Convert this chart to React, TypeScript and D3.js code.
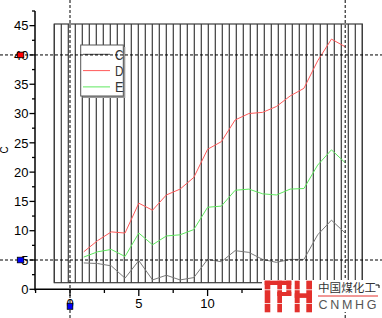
import React from "react";
import * as d3 from "d3";

const XS = [1, 2, 3, 4, 5, 6, 7, 8, 9, 10, 11, 12, 13, 14, 15, 16, 17, 18, 19, 20];
const SERIES_C = [4.5, 4.4, 4.0, 1.9, 4.9, 1.6, 2.4, 1.6, 2.0, 5.1, 4.7, 6.6, 6.3, 5.1, 4.6, 5.1, 5.1, 9.3, 11.8, 9.6];
const SERIES_D = [6.4, 8.3, 9.8, 9.6, 14.7, 13.5, 16.1, 17.1, 19.1, 23.9, 25.2, 28.9, 30.0, 30.2, 31.2, 33.0, 34.3, 39.0, 42.7, 41.4];
const SERIES_E = [5.5, 6.4, 6.8, 5.6, 9.6, 7.6, 9.1, 9.3, 10.2, 14.0, 14.2, 16.9, 17.1, 16.3, 16.1, 17.1, 17.2, 21.2, 23.8, 21.6];
const LEGEND = ["C", "D", "E"];
const Y_MAJOR = [0, 5, 10, 15, 20, 25, 30, 35, 40, 45];
const Y_MINOR = [2.5, 7.5, 12.5, 17.5, 22.5, 27.5, 32.5, 37.5, 42.5, 47.5];
const X_MAJOR = [0, 5, 10, 15, 20];
const X_LABELS = [0, 5, 10];
const X_MINOR = [-2.5, 2.5, 7.5, 12.5, 17.5];
const CURSOR_X = [0, 20];
const CURSOR_Y = [40, 5];

const W = 382;
const H = 318;

export default function App() {
  const x = d3.scaleLinear().domain([-2.5, 22.5]).range([35.6, 379.6]);
  const y = d3.scaleLinear().domain([0, 47.5]).range([289.3, 11]);
  const font = "'Liberation Sans', Arial, sans-serif";

  const lineGen = (vals: number[]) =>
    d3
      .line<number>()
      .x((_, i) => x(XS[i]))
      .y((v) => y(v))(vals) || "";

  const colors = ["#7a7a7a", "#ff5a5a", "#5ee85e"];
  const seriesData = [SERIES_C, SERIES_D, SERIES_E];

  // hatched rectangle
  const hx0 = 54.3, hx1 = 362.3, hy0 = 24, hy1 = 282.7;
  const nLines = 44;
  const hatch = d3.range(nLines + 1).map((i) => hx0 + ((hx1 - hx0) * i) / nLines);

  const red = "#e3302c";

  return (
    <svg width={W} height={H} style={{ position: "absolute", left: 0, top: 0, background: "#fff" }}>
      <rect x={0} y={0} width={W} height={H} fill="#fff" />
      <rect x={hx0} y={hy0} width={hx1 - hx0} height={hy1 - hy0} fill="none" stroke="#3c3c3c" strokeWidth={1.2} />
      {hatch.map((hx, i) => (
        <line key={i} x1={hx} x2={hx} y1={hy0} y2={hy1} stroke="#3c3c3c" strokeWidth={1.2} />
      ))}

      {seriesData.map((s, i) => (
        <path key={i} d={lineGen(s)} fill="none" stroke={colors[i]} strokeWidth={1} />
      ))}

      {/* legend */}
      <rect x={82.7} y={47} width={42.6} height={51} fill="#9a9a9a" />
      <rect x={80.7} y={45} width={42.6} height={51} fill="#fff" stroke="#555" strokeWidth={1} />
      {LEGEND.map((l, i) => {
        const ly = 54.3 + i * 16.3;
        return (
          <g key={l}>
            <line x1={83} x2={110} y1={ly} y2={ly} stroke={i === 0 ? "#444" : colors[i]} strokeWidth={1} />
            <text
              x={115}
              y={ly}
              dy="0.36em"
              fontFamily={font}
              fontSize={15}
              fill="#333"
              textLength={8.5}
              lengthAdjust="spacingAndGlyphs"
            >
              {l}
            </text>
          </g>
        );
      })}

      {/* axes */}
      <line x1={35} x2={35} y1={y(47.5)} y2={290.5} stroke="#000" strokeWidth={1.5} />
      <line x1={35} x2={x(22.5)} y1={289.3} y2={289.3} stroke="#000" strokeWidth={1.5} />
      {Y_MAJOR.map((v) => (
        <g key={"ym" + v}>
          <line x1={29.5} x2={35} y1={y(v)} y2={y(v)} stroke="#000" strokeWidth={1.3} />
          <text x={28.5} y={y(v)} dy="0.36em" textAnchor="end" fontFamily={font} fontSize={13} fill="#000">
            {v}
          </text>
        </g>
      ))}
      {Y_MINOR.map((v) => (
        <line key={"yn" + v} x1={32} x2={35} y1={y(v)} y2={y(v)} stroke="#000" strokeWidth={1.3} />
      ))}
      {X_MAJOR.map((v) => (
        <line key={"xm" + v} x1={x(v)} x2={x(v)} y1={289.3} y2={296} stroke="#000" strokeWidth={1.3} />
      ))}
      {X_LABELS.map((v) => (
        <text key={"xl" + v} x={x(v)} y={307.5} textAnchor="middle" fontFamily={font} fontSize={13} fill="#000">
          {v}
        </text>
      ))}
      {X_MINOR.map((v) => (
        <line key={"xn" + v} x1={x(v)} x2={x(v)} y1={289.3} y2={293} stroke="#000" strokeWidth={1.3} />
      ))}
      <text
        transform="translate(8,150) rotate(-90)"
        textAnchor="middle"
        fontFamily={font}
        fontSize={10}
        fill="#000"
      >
        C
      </text>

      {/* cursor lines */}
      {CURSOR_Y.map((v) => (
        <line key={"cy" + v} x1={0} x2={W} y1={y(v)} y2={y(v)} stroke="#000" strokeWidth={1} strokeDasharray="3,2" />
      ))}
      {CURSOR_X.map((v) => (
        <line key={"cx" + v} x1={x(v)} x2={x(v)} y1={0} y2={H} stroke="#000" strokeWidth={1} strokeDasharray="3,2" />
      ))}

      {/* cursor markers */}
      <rect x={17.3} y={y(40) - 2.8} width={6.5} height={5.6} fill="#ff0000" stroke="#000" strokeWidth={0.8} />
      <rect x={17.3} y={y(5) - 2.8} width={6.5} height={5.6} fill="#0000ff" stroke="#000" strokeWidth={0.8} />
      <rect x={x(0) - 2.8} y={303.3} width={5.6} height={6} fill="#0000ff" stroke="#000" strokeWidth={0.8} />

      {/* logo */}
      <rect x={262} y={280} width={120} height={32} fill="#fff" />
      <g fill={red}>
        <rect x={264.7} y={280.7} width={26.6} height={4.3} />
        <rect x={264.7} y={280.7} width={5.6} height={31.6} />
        <rect x={277.3} y={280.7} width={4.7} height={31.6} />
        <rect x={286.3} y={280.7} width={5} height={15} />
        <rect x={277.3} y={292} width={14} height={4} />
        <rect x={294.7} y={280.7} width={5} height={31.6} />
        <rect x={306.3} y={280.7} width={5.7} height={31.6} />
        <rect x={294.7} y={293.3} width={17.3} height={4.6} />
      </g>
      <rect x={264} y={289.4} width={49} height={0.8} fill="#fff" />
      <rect x={264} y={303} width={49} height={0.8} fill="#fff" />
      <text x={318} y={292.3} fontFamily="'Noto Sans CJK SC', sans-serif" fontSize={11.8} fill="#333" textLength={58} lengthAdjust="spacingAndGlyphs">
        中国煤化工
      </text>
      <path d="M375.5,285 H379 V288" fill="none" stroke="#000" strokeWidth={1} />
      <line x1={318} x2={378} y1={296} y2={296} stroke={red} strokeWidth={1} />
      <text x={318.5} y={309.2} fontFamily={font} fontSize={12.5} fill="#555" textLength={58} lengthAdjust="spacing">
        CNMHG
      </text>
    </svg>
  );
}
